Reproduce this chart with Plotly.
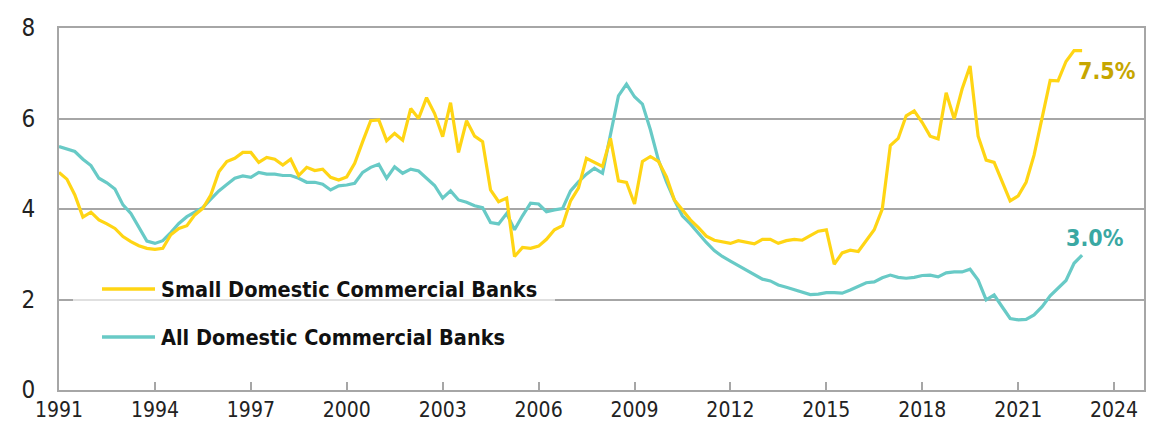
import pandas as pd
import plotly.graph_objects as go

# Quarterly observations, 1991 Q1 .. 2023 Q1
dates = pd.date_range("1991-01-01", periods=129, freq="QS")

small_banks = [
    4.81, 4.66, 4.31, 3.82, 3.93, 3.76, 3.67, 3.57, 3.39, 3.28,
    3.19, 3.13, 3.11, 3.13, 3.43, 3.57, 3.63, 3.87, 4.01, 4.31,
    4.82, 5.05, 5.12, 5.25, 5.25, 5.03, 5.14, 5.10, 4.97, 5.10,
    4.74, 4.92, 4.85, 4.88, 4.70, 4.64, 4.71, 5.01, 5.49, 5.95,
    5.97, 5.51, 5.67, 5.52, 6.22, 6.00, 6.46, 6.11, 5.60, 6.35,
    5.25, 5.95, 5.61, 5.49, 4.42, 4.16, 4.24, 2.95, 3.15, 3.13,
    3.18, 3.33, 3.54, 3.63, 4.18, 4.46, 5.12, 5.03, 4.94, 5.56,
    4.62, 4.59, 4.11, 5.05, 5.16, 5.05, 4.71, 4.20, 3.98, 3.76,
    3.59, 3.40, 3.31, 3.28, 3.24, 3.30, 3.26, 3.23, 3.33, 3.33,
    3.24, 3.30, 3.33, 3.31, 3.41, 3.51, 3.54, 2.78, 3.03, 3.09,
    3.06, 3.30, 3.54, 4.00, 5.40, 5.56, 6.06, 6.17, 5.91, 5.61,
    5.55, 6.57, 5.99, 6.65, 7.16, 5.61, 5.08, 5.03, 4.62, 4.18,
    4.29, 4.59, 5.19, 6.00, 6.84, 6.83, 7.26, 7.50, 7.50,
]

all_banks = [
    5.38, 5.33, 5.27, 5.10, 4.96, 4.68, 4.58, 4.44, 4.09, 3.90,
    3.59, 3.29, 3.24, 3.30, 3.48, 3.68, 3.83, 3.93, 4.03, 4.22,
    4.40, 4.54, 4.68, 4.73, 4.70, 4.81, 4.77, 4.77, 4.74, 4.74,
    4.68, 4.59, 4.59, 4.55, 4.42, 4.51, 4.53, 4.57, 4.81, 4.92,
    4.99, 4.68, 4.93, 4.79, 4.88, 4.84, 4.68, 4.52, 4.24, 4.40,
    4.20, 4.15, 4.07, 4.03, 3.70, 3.67, 3.90, 3.54, 3.85, 4.13,
    4.11, 3.94, 3.98, 4.01, 4.40, 4.60, 4.77, 4.90, 4.79, 5.67,
    6.50, 6.76, 6.48, 6.32, 5.75, 5.08, 4.60, 4.20, 3.85, 3.67,
    3.46, 3.26, 3.08, 2.95, 2.85, 2.75, 2.65, 2.54, 2.45, 2.41,
    2.32, 2.27, 2.21, 2.16, 2.11, 2.12, 2.15, 2.15, 2.14, 2.21,
    2.30, 2.37, 2.39, 2.48, 2.54, 2.49, 2.47, 2.49, 2.53, 2.54,
    2.50, 2.59, 2.61, 2.61, 2.67, 2.43, 1.99, 2.10, 1.84, 1.58,
    1.55, 1.56, 1.66, 1.84, 2.08, 2.25, 2.42, 2.80, 2.98,
]

series_names = ["Small Domestic Commercial Banks", "All Domestic Commercial Banks"]
x_tick_years = [1991, 1994, 1997, 2000, 2003, 2006, 2009, 2012, 2015, 2018, 2021, 2024]
y_ticks = [0, 2, 4, 6, 8]

YELLOW = "#FFD514"
TEAL = "#68CAC6"
GOLD_TEXT = "#C6A600"
TEAL_TEXT = "#3AA8A3"
GRID = "#A6A6A6"
FONT = "Liberation Sans Narrow, Arial Narrow, DejaVu Sans Condensed, sans-serif"

fig = go.Figure()
fig.add_trace(go.Scatter(x=dates, y=all_banks, mode="lines", name=series_names[1],
                         line=dict(color=TEAL, width=3.2), showlegend=False))
fig.add_trace(go.Scatter(x=dates, y=small_banks, mode="lines", name=series_names[0],
                         line=dict(color=YELLOW, width=3.2), showlegend=False))

tickvals = [pd.Timestamp(f"{y}-01-01") for y in x_tick_years]
fig.update_xaxes(
    type="date", range=[pd.Timestamp("1991-01-01"), pd.Timestamp("2024-12-08")],
    tickvals=tickvals, ticktext=[str(y) for y in x_tick_years],
    ticks="inside", ticklen=8, tickwidth=1.5, tickcolor=GRID,
    showline=True, linecolor=GRID, linewidth=2, mirror=True,
    showgrid=False, zeroline=False,
    tickfont=dict(family=FONT, size=21, color="#222222"),
)
fig.update_yaxes(
    range=[0, 8], tickvals=y_ticks, ticktext=[str(v) for v in y_ticks],
    showline=True, linecolor=GRID, linewidth=2, mirror=True,
    showgrid=True, gridcolor=GRID, gridwidth=1.5, zeroline=False,
    ticks="", ticklabelstandoff=17,
    tickfont=dict(family=FONT, size=24, color="#222222"),
)

# Manual legend (white translucent panel, long line samples, bold labels)
shapes = [
    dict(type="rect", xref="paper", yref="paper", x0=14 / 1085, x1=496 / 1085,
         y0=(390 - 355) / 362, y1=(390 - 270) / 362,
         fillcolor="rgba(255,255,255,0.65)", line=dict(width=0), layer="above"),
]
legend_rows = [(series_names[0], YELLOW, 289), (series_names[1], TEAL, 337)]
annotations = []
for name, color, ypix in legend_rows:
    yp = (390 - ypix) / 362
    shapes.append(dict(type="line", xref="paper", yref="paper",
                       x0=43 / 1085, x1=96 / 1085, y0=yp, y1=yp,
                       line=dict(color=color, width=3.5), layer="above"))
    annotations.append(dict(xref="paper", yref="paper", x=100 / 1085, y=yp,
                            xanchor="left", yanchor="middle", showarrow=False,
                            text=f"<b>{name}</b>",
                            font=dict(family=FONT, size=21.5, color="#111111")))

# End-of-series labels
annotations.append(dict(x=dates[-1], y=small_banks[-1], xref="x", yref="y",
                        text=f"<b>{small_banks[-1]:.1f}%</b>", showarrow=False,
                        xanchor="left", yanchor="middle", xshift=-6, yshift=-20,
                        font=dict(family=FONT, size=23, color=GOLD_TEXT)))
annotations.append(dict(x=dates[-1], y=all_banks[-1], xref="x", yref="y",
                        text=f"<b>{all_banks[-1]:.1f}%</b>", showarrow=False,
                        xanchor="left", yanchor="middle", xshift=-18, yshift=17,
                        font=dict(family=FONT, size=23, color=TEAL_TEXT)))

fig.update_layout(
    width=1160, height=438,
    margin=dict(l=59, r=16, t=28, b=48),
    paper_bgcolor="white", plot_bgcolor="white",
    shapes=shapes, annotations=annotations,
    showlegend=False,
)

fig.write_html("out.html")
